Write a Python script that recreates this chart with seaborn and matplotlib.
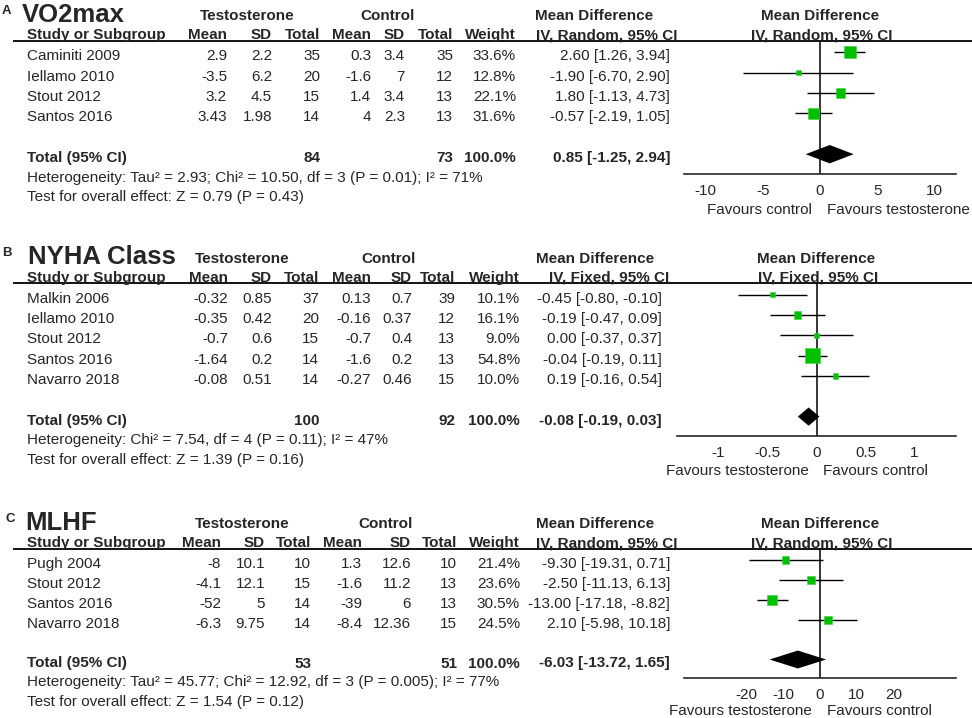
import numpy as np
import matplotlib
matplotlib.use('Agg')
import matplotlib.pyplot as plt
import matplotlib.transforms as mtransforms
import seaborn as sns

sns.set_style('white')
plt.rcParams['font.family'] = ['Liberation Sans', 'DejaVu Sans']

## Datos
# A) VO2max
estudios_a = ["Caminiti 2009", "Iellamo 2010", "Stout 2012", "Santos 2016"]
t_media_a = [2.9, -3.5, 3.2, 3.43]
t_sd_a = [2.2, 6.2, 4.5, 1.98]
t_n_a = [35, 20, 15, 14]
c_media_a = [0.3, -1.6, 1.4, 4]
c_sd_a = [3.4, 7, 3.4, 2.3]
c_n_a = [35, 12, 13, 13]
peso_a = [33.6, 12.8, 22.1, 31.6]
md_a = [2.60, -1.90, 1.80, -0.57]
lo_a = [1.26, -6.70, -1.13, -2.19]
hi_a = [3.94, 2.90, 4.73, 1.05]
total_a = [0.85, -1.25, 2.94]
n_total_a = [84, 73]
het_a = "Heterogeneity: Tau² = 2.93; Chi² = 10.50, df = 3 (P = 0.01); I² = 71%"
test_a = "Test for overall effect: Z = 0.79 (P = 0.43)"
ticks_a = [-10, -5, 0, 5, 10]

# B) NYHA Class
estudios_b = ["Malkin 2006", "Iellamo 2010", "Stout 2012", "Santos 2016", "Navarro 2018"]
t_media_b = [-0.32, -0.35, -0.7, -1.64, -0.08]
t_sd_b = [0.85, 0.42, 0.6, 0.2, 0.51]
t_n_b = [37, 20, 15, 14, 14]
c_media_b = [0.13, -0.16, -0.7, -1.6, -0.27]
c_sd_b = [0.7, 0.37, 0.4, 0.2, 0.46]
c_n_b = [39, 12, 13, 13, 15]
peso_b = [10.1, 16.1, 9.0, 54.8, 10.0]
md_b = [-0.45, -0.19, 0.00, -0.04, 0.19]
lo_b = [-0.80, -0.47, -0.37, -0.19, -0.16]
hi_b = [-0.10, 0.09, 0.37, 0.11, 0.54]
total_b = [-0.08, -0.19, 0.03]
n_total_b = [100, 92]
het_b = "Heterogeneity: Chi² = 7.54, df = 4 (P = 0.11); I² = 47%"
test_b = "Test for overall effect: Z = 1.39 (P = 0.16)"
ticks_b = [-1, -0.5, 0, 0.5, 1]

# C) MLHF
estudios_c = ["Pugh 2004", "Stout 2012", "Santos 2016", "Navarro 2018"]
t_media_c = [-8, -4.1, -52, -6.3]
t_sd_c = [10.1, 12.1, 5, 9.75]
t_n_c = [10, 15, 14, 14]
c_media_c = [1.3, -1.6, -39, -8.4]
c_sd_c = [12.6, 11.2, 6, 12.36]
c_n_c = [10, 13, 13, 15]
peso_c = [21.4, 23.6, 30.5, 24.5]
md_c = [-9.30, -2.50, -13.00, 2.10]
lo_c = [-19.31, -11.13, -17.18, -5.98]
hi_c = [0.71, 6.13, -8.82, 10.18]
total_c = [-6.03, -13.72, 1.65]
n_total_c = [53, 51]
het_c = "Heterogeneity: Tau² = 45.77; Chi² = 12.92, df = 3 (P = 0.005); I² = 77%"
test_c = "Test for overall effect: Z = 1.54 (P = 0.12)"
ticks_c = [-20, -10, 0, 10, 20]

W, H = 972, 718
FS = 11.0
verde = '#00c000'

fig = plt.figure(figsize=(W / 100, H / 100), dpi=100)
ax0 = fig.add_axes([0, 0, 1, 1])
ax0.set_xlim(0, W)
ax0.set_ylim(H, 0)
ax0.axis('off')


def ci(m, l, h):
    return '{:.2f} [{:.2f}, {:.2f}]'.format(m, l, h)


def panel(letra, titulo, metodo, datos, total, n_total, het, test, ticks, lim,
          fav_izq, fav_der, y_line, dy, x_ax, cols, centros, x_letra, x_titulo,
          tam_cuadro, fav_dy):
    estudios, tm, ts, tn, cm, cs, cn, peso, md, lo, hi = datos
    n = len(estudios)
    row0 = y_line + 11.5
    base = lambda i: row0 + i * dy + 8

    # encabezados
    ax0.text(x_letra, y_line - 27, letra, fontsize=9.5, fontweight='bold', va='baseline')
    ax0.text(x_titulo, y_line - 19, titulo, fontsize=18.5, fontweight='bold', va='baseline')
    for txt, xc in zip(['Testosterone', 'Control', 'Mean Difference'], centros):
        ax0.text(xc, y_line - 20.2, txt, fontsize=FS, fontweight='bold', ha='center', va='baseline')
    ax0.text(27, y_line - 1.5, 'Study or Subgroup', fontsize=FS, fontweight='bold', va='baseline')
    for txt, xr in zip(['Mean', 'SD', 'Total', 'Mean', 'SD', 'Total', 'Weight'], cols[:7]):
        ax0.text(xr, y_line - 1.5, txt, fontsize=FS, fontweight='bold', ha='right', va='baseline')
    ax0.text(cols[8], y_line - 1.5, metodo, fontsize=FS, fontweight='bold', ha='right', va='baseline')
    ax0.hlines(y_line, 13, W, color='black', lw=1.3)

    # filas de estudios
    for i in range(n):
        y = base(i)
        ax0.text(27, y, estudios[i], fontsize=FS, va='baseline')
        vals = ['{:g}'.format(tm[i]), '{:g}'.format(ts[i]), str(tn[i]),
                '{:g}'.format(cm[i]), '{:g}'.format(cs[i]), str(cn[i]),
                '{:.1f}%'.format(peso[i]), ci(md[i], lo[i], hi[i])]
        for v, xr in zip(vals, cols[:8]):
            ax0.text(xr, y, v, fontsize=FS, ha='right', va='baseline')

    # total
    y = base(n + 1)
    ax0.text(27, y, 'Total (95% CI)', fontsize=FS, fontweight='bold', va='baseline')
    for v, xr in zip([str(n_total[0]), str(n_total[1]), '100.0%', ci(*total)],
                     [cols[2], cols[5], cols[6], cols[7]]):
        ax0.text(xr, y, v, fontsize=FS, fontweight='bold', ha='right', va='baseline')
    ax0.text(27, base(n + 2) - 1, het, fontsize=FS, va='baseline')
    ax0.text(27, base(n + 3) - 1.5, test, fontsize=FS, va='baseline')

    # forest plot
    y_axis = row0 + (n + 1.95) * dy
    ax = fig.add_axes([x_ax[0] / W, 1 - y_axis / H, (x_ax[1] - x_ax[0]) / W, (y_axis - y_line) / H])
    ax.patch.set_visible(False)
    filas = np.arange(n)
    ax.hlines(filas, lo, hi, color='black', lw=1.0, zorder=2)
    sns.scatterplot(x=md, y=filas, size=peso, sizes=tam_cuadro,
                    marker='s', color=verde, edgecolor='#40d040', linewidth=0.4,
                    legend=False, ax=ax, zorder=3)
    m, l, h = total
    hd = 0.45
    ax.fill([l, m, h, m], [n + 1, n + 1 - hd, n + 1, n + 1 + hd], color='black', lw=0, zorder=3)
    ax.axvline(0, color='black', lw=1.1, zorder=1)
    ax.set_xlim(-lim, lim)
    ax.set_ylim(n + 1.95, -11.5 / dy)
    for s in ['top', 'right', 'left']:
        ax.spines[s].set_visible(False)
    ax.spines['bottom'].set_linewidth(1.2)
    ax.set_yticks([])
    ax.set_xticks(ticks)
    ax.set_xticklabels(['{:g}'.format(t) for t in ticks])
    ax.tick_params(axis='x', direction='inout', length=8, width=1.0, labelsize=FS, pad=3.2)
    ax.set_xlabel('')
    ax.set_ylabel('')

    xc = (x_ax[0] + x_ax[1]) / 2
    ax0.text(xc, y_line - 20.2, 'Mean Difference', fontsize=FS, fontweight='bold', ha='center', va='baseline')
    ax0.text(xc + 2, y_line - 1.5, metodo, fontsize=FS, fontweight='bold', ha='center', va='baseline')

    trans = mtransforms.blended_transform_factory(ax.transData, ax0.transData)
    ax.annotate(fav_izq, xy=(0, y_axis + fav_dy), xycoords=trans, xytext=(-5.5, 0),
                textcoords='offset points', ha='right', va='baseline', fontsize=FS)
    ax.annotate(fav_der, xy=(0, y_axis + fav_dy), xycoords=trans, xytext=(5, 0),
                textcoords='offset points', ha='left', va='baseline', fontsize=FS)


panel('A', 'VO2max', 'IV, Random, 95% CI',
      (estudios_a, t_media_a, t_sd_a, t_n_a, c_media_a, c_sd_a, c_n_a, peso_a, md_a, lo_a, hi_a),
      total_a, n_total_a, het_a, test_a, ticks_a, 11.88,
      'Favours control', 'Favours testosterone',
      40.7, 20.4, (684, 956), [227, 272, 320, 371, 405, 453, 516, 670, 677],
      [247.5, 388, 594], 2, 22, (15, 78), 40)

panel('B', 'NYHA Class', 'IV, Fixed, 95% CI',
      (estudios_b, t_media_b, t_sd_b, t_n_b, c_media_b, c_sd_b, c_n_b, peso_b, md_b, lo_b, hi_b),
      total_b, n_total_b, het_b, test_b, ticks_b, 1.423,
      'Favours testosterone', 'Favours control',
      283.3, 20.3, (677, 956), [228, 272, 319, 371, 412, 455, 520, 662, 669],
      [242, 389, 595.5], 2, 28, (11, 115), 39)

panel('C', 'MLHF', 'IV, Random, 95% CI',
      (estudios_c, t_media_c, t_sd_c, t_n_c, c_media_c, c_sd_c, c_n_c, peso_c, md_c, lo_c, hi_c),
      total_c, n_total_c, het_c, test_c, ticks_c, 37.0,
      'Favours testosterone', 'Favours control',
      548.5, 19.9, (684, 956), [221, 265, 311, 362, 411, 457, 520, 670, 677],
      [242, 386, 595], 5, 25, (28, 48), 36.5)

fig.savefig('out.png', dpi=100)
